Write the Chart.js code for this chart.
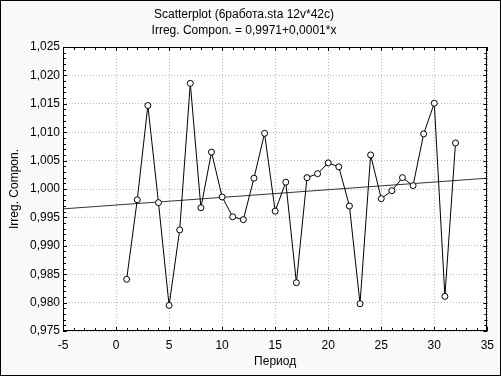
<!DOCTYPE html>
<html>
<head>
<meta charset="utf-8">
<script src="https://cdn.jsdelivr.net/npm/chart.js@4/dist/chart.umd.min.js"></script>
<style>
html, body { margin: 0; padding: 0; background: #f9f9f9; }
</style>
</head>
<body>
<canvas id="grafico" width="501" height="376"></canvas>
<script>
// dados
const periodos = [1, 2, 3, 4, 5, 6, 7, 8, 9, 10, 11, 12, 13, 14, 15, 16,
                  17, 18, 19, 20, 21, 22, 23, 24, 25, 26, 27, 28, 29, 30, 31, 32];
const componente = [0.9841, 0.9981, 1.0147, 0.9976, 0.9795, 0.9928, 1.0186, 0.9967,
                    1.0065, 0.9986, 0.9951, 0.9946, 1.0019, 1.0098, 0.9961, 1.0012,
                    0.9835, 1.0020, 1.0027, 1.0046, 1.0039, 0.9970, 0.9798, 1.0060,
                    0.9983, 0.9997, 1.0020, 1.0006, 1.0097, 1.0151, 0.9811, 1.0081];
// reta de regressão (extremos)
const retaX = [-5, 35];
const retaY = [0.9965, 1.0019];
// rótulos dos eixos
const ticksX = [-5, 0, 5, 10, 15, 20, 25, 30, 35];
const ticksY = [0.975, 0.980, 0.985, 0.990, 0.995, 1.000, 1.005, 1.010, 1.015, 1.020, 1.025];

const fonte = "'Liberation Sans', Arial, sans-serif";

// fundo, moldura e marcas menores
const moldura = {
    id: 'moldura',
    beforeDraw(chart) {
        const c = chart.ctx, a = chart.chartArea;
        c.save();
        c.fillStyle = '#f9f9f9';
        c.fillRect(0, 0, chart.width, chart.height);
        c.strokeStyle = '#000';
        c.lineWidth = 1;
        c.strokeRect(0.5, 0.5, chart.width - 1, chart.height - 1);
        c.fillStyle = '#fff';
        c.fillRect(a.left, a.top, a.right - a.left, a.bottom - a.top);
        c.restore();
    },
    afterDraw(chart) {
        const c = chart.ctx, a = chart.chartArea;
        const sx = chart.scales.x, sy = chart.scales.y;
        c.save();
        c.strokeStyle = '#000';
        c.lineWidth = 1;
        c.beginPath();
        for (let k = 0; k <= 40; k++) {
            const px = Math.round(sx.getPixelForValue(-5 + k)) + 0.5;
            const len = k % 5 === 0 ? 4 : 3;
            c.moveTo(px, a.bottom); c.lineTo(px, a.bottom - len);
            c.moveTo(px, a.top); c.lineTo(px, a.top + len);
        }
        for (let k = 0; k <= 50; k++) {
            const py = Math.round(sy.getPixelForValue(0.975 + k * 0.001)) + 0.5;
            const len = k % 5 === 0 ? 4 : 3;
            c.moveTo(a.left, py); c.lineTo(a.left + len, py);
            c.moveTo(a.right, py); c.lineTo(a.right - len, py);
        }
        c.stroke();
        c.strokeRect(Math.round(a.left) + 0.5, Math.round(a.top) + 0.5,
                     Math.round(a.right - a.left) - 1, Math.round(a.bottom - a.top) - 1);
        c.restore();
    }
};

const ctx = document.getElementById('grafico').getContext('2d');

new Chart(ctx, {
    type: 'scatter',
    data: {
        datasets: [{
            label: 'Irreg. Compon.',
            data: periodos.map((p, i) => ({ x: p, y: componente[i] })),
            showLine: true,
            borderColor: '#000',
            borderWidth: 1,
            backgroundColor: '#fff',
            pointRadius: 3,
            pointBorderWidth: 1,
            pointBorderColor: '#000',
            pointBackgroundColor: '#fff',
            tension: 0
        }, {
            label: 'Regressão',
            data: retaX.map((x, i) => ({ x: x, y: retaY[i] })),
            showLine: true,
            borderColor: '#333',
            borderWidth: 1,
            pointRadius: 0
        }]
    },
    options: {
        responsive: false,
        animation: false,
        devicePixelRatio: 1,
        layout: { padding: { left: 0, right: 13, top: 0, bottom: 0 } },
        plugins: {
            legend: { display: false },
            tooltip: { enabled: false },
            title: {
                display: true,
                text: ['Scatterplot (6работа.sta 12v*42c)', 'Irreg. Compon. = 0,9971+0,0001*x'],
                color: '#000',
                font: { family: fonte, size: 12, weight: 'normal', lineHeight: 1.3334 },
                padding: { top: 7, bottom: 8 }
            }
        },
        scales: {
            x: {
                type: 'linear',
                min: -5,
                max: 35,
                afterBuildTicks: s => { s.ticks = ticksX.map(v => ({ value: v })); },
                afterFit: s => { s.height = 45; },
                grid: { color: '#b8b8b8', drawTicks: false },
                border: { display: false, dash: [1, 2] },
                ticks: {
                    color: '#000',
                    padding: 7,
                    maxRotation: 0,
                    font: { family: fonte, size: 12 },
                    callback: v => String(v)
                },
                title: {
                    display: true,
                    text: 'Период',
                    color: '#000',
                    font: { family: fonte, size: 12 },
                    padding: { top: 7, bottom: 7 }
                }
            },
            y: {
                type: 'linear',
                min: 0.975,
                max: 1.025,
                afterBuildTicks: s => { s.ticks = ticksY.map(v => ({ value: v })); },
                afterFit: s => { s.width = 63; },
                grid: { color: '#b8b8b8', drawTicks: false },
                border: { display: false, dash: [1, 2] },
                ticks: {
                    color: '#000',
                    padding: 3,
                    font: { family: fonte, size: 12 },
                    callback: v => v.toFixed(3).replace('.', ',')
                },
                title: {
                    display: true,
                    text: 'Irreg. Compon.',
                    color: '#000',
                    font: { family: fonte, size: 12 },
                    padding: { top: 7, bottom: 7 }
                }
            }
        }
    },
    plugins: [moldura]
});
</script>
</body>
</html>
